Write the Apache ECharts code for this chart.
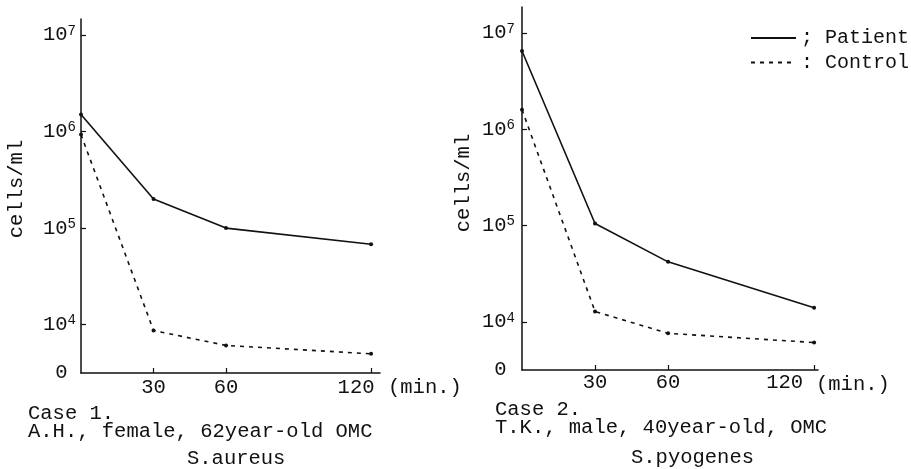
<!DOCTYPE html>
<html>
<head>
<meta charset="utf-8">
<script src="https://cdn.jsdelivr.net/npm/echarts@6/dist/echarts.min.js"></script>
<style>
  html, body { margin: 0; padding: 0; background: #fff; }
  #chart { width: 911px; height: 469px; }
</style>
</head>
<body>
<div id="chart"></div>
<script>
// time after start (min.)
var minutes = [0, 30, 60, 120];
// cells/ml
var case1Patient = [1.5e6, 2.0e5, 1.0e5, 6.8e4];
var case1Control = [9.3e5, 8.7e3, 6.1e3, 5.0e3];
var case2Patient = [6.5e6, 1.05e5, 4.2e4, 1.4e4];
var case2Control = [1.6e6, 1.28e4, 7.6e3, 6.1e3];

var xTickValues = [30, 60, 120];
var yTickValues = [1e4, 1e5, 1e6, 1e7];
var yFloor = Math.pow(10, 3.5); // bottom of the axis, labelled "0"

var FONT = "'Liberation Mono', 'DejaVu Sans Mono', monospace";
var INK = '#111';

function pairs(ys) {
  return minutes.map(function (m, i) { return [m, ys[i]]; });
}

function yLabel(v) {
  if (v < 5000) return '{b|0}{s| }';
  return '{b|10}{s|' + Math.round(Math.log10(v)) + '}';
}

function makeX(idx, max, padRight) {
  return {
    type: 'value', gridIndex: idx, min: 0, max: max,
    name: '(min.)', nameLocation: 'end', nameGap: idx === 0 ? 8 : -2,
    nameTextStyle: { color: INK, fontFamily: FONT, fontSize: 20.5, verticalAlign: 'top', padding: [4, 0, 0, 0] },
    axisLine: { lineStyle: { color: INK, width: 1.5 } },
    axisTick: { inside: true, length: 5, customValues: xTickValues, lineStyle: { color: INK, width: 1.2 } },
    axisLabel: {
      customValues: xTickValues, margin: idx === 0 ? 4 : 2, color: INK,
      fontFamily: FONT, fontSize: 20.5,
      formatter: function (v) { return v === 120 ? '{r|120}' : String(v); },
      rich: { r: { fontFamily: FONT, fontSize: 20.5, color: INK, padding: [0, padRight, 0, 0] } }
    },
    splitLine: { show: false }
  };
}

function makeY(idx, max, gap, shift, margin) {
  return {
    type: 'log', logBase: 10, gridIndex: idx, min: yFloor, max: max,
    name: 'cells/ml', nameLocation: 'middle', nameGap: gap, nameRotate: 90,
    nameTextStyle: { color: INK, fontFamily: FONT, fontSize: 20.5, padding: [0, 0, 0, shift] },
    axisLine: { lineStyle: { color: INK, width: 1.5 } },
    axisTick: { inside: true, length: 5, customValues: yTickValues, lineStyle: { color: INK, width: 1.2 } },
    axisLabel: {
      customValues: [yFloor].concat(yTickValues), margin: margin,
      formatter: yLabel,
      rich: {
        b: { fontFamily: FONT, fontSize: 20.5, color: INK, lineHeight: 22 },
        s: { fontFamily: FONT, fontSize: 14, color: INK, lineHeight: 10, verticalAlign: 'top' }
      }
    },
    splitLine: { show: false }
  };
}

function line(name, idx, ys, dotted) {
  return {
    name: name, type: 'line', xAxisIndex: idx, yAxisIndex: idx,
    data: pairs(ys), symbol: 'circle', symbolSize: 4,
    itemStyle: { color: INK },
    lineStyle: { color: INK, width: 1.6, type: dotted ? [4, 5] : 'solid' },
    animation: false
  };
}

var textStyle = { color: INK, fontFamily: FONT, fontSize: 20.5, fontWeight: 'normal', lineHeight: 17.5 };

var chart = echarts.init(document.getElementById('chart'));
chart.setOption({
  backgroundColor: '#fff',
  animation: false,
  grid: [
    { left: 81, top: 19, width: 299, height: 354 },
    { left: 522, top: 7, width: 296, height: 363 }
  ],
  xAxis: [makeX(0, 123.7, 30), makeX(1, 121.6, 59)],
  yAxis: [makeY(0, Math.pow(10, 7.165), 54, 14, 5), makeY(1, Math.pow(10, 7.27), 48, 11, 7)],
  legend: {
    orient: 'vertical', left: 750, top: 28, padding: 0,
    itemWidth: 45, itemHeight: 2, itemGap: 4.5,
    itemStyle: { color: 'transparent', borderWidth: 0 },
    data: ['Patient', 'Control'],
    formatter: function (n) { return n === 'Patient' ? '; Patient' : ': Control'; },
    textStyle: { color: INK, fontFamily: FONT, fontSize: 20, padding: 0 }
  },
  title: [
    { text: 'Case 1.\nA.H., female, 62year-old OMC', left: 28, top: 405, padding: 0, textStyle: textStyle },
    { text: 'S.aureus', left: 187, top: 450, padding: 0, textStyle: textStyle },
    { text: 'Case 2.\nT.K., male, 40year-old, OMC', left: 495, top: 401, padding: 0, textStyle: textStyle },
    { text: 'S.pyogenes', left: 631, top: 449, padding: 0, textStyle: textStyle }
  ],
  series: [
    line('Patient', 0, case1Patient, false),
    line('Control', 0, case1Control, true),
    line('Patient', 1, case2Patient, false),
    line('Control', 1, case2Control, true)
  ]
});
</script>
</body>
</html>
